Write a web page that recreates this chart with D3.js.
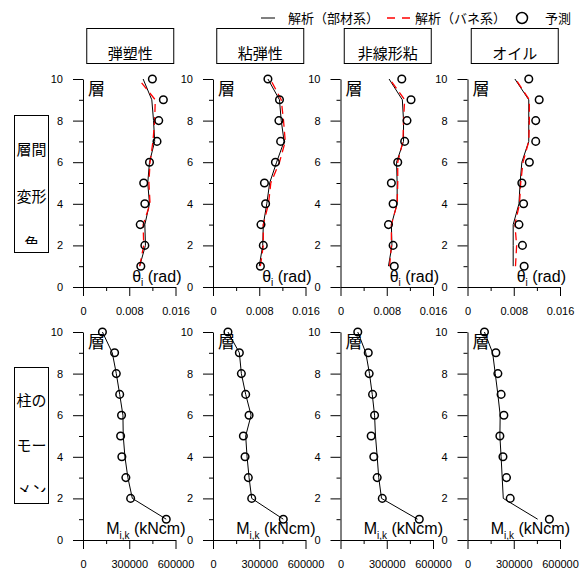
<!DOCTYPE html>
<html>
<head>
<meta charset="utf-8">
<script src="https://cdn.jsdelivr.net/npm/d3@7"></script>
<style>
  body { margin: 0; background: #fff; }
  svg { display: block; font-family: "Liberation Sans", Arial, sans-serif; }
</style>
</head>
<body>
<div id="chart"></div>
<script>
// floors 1..10
const floors = [1, 2, 3, 4, 5, 6, 7, 8, 9, 10];
const systems = ["弾塑性", "粘弾性", "非線形粘", "オイル"];
const rowLabelLines = [["層間", "変形", "角"], ["柱の", "モー", "メン", "ト"]];
const legendLabels = ["解析（部材系）", "解析（バネ系）", "予測"];

const driftTicks = [0, 0.004, 0.008, 0.012, 0.016];
const driftTickLabels = ["0", "", "0.008", "", "0.016"];
const momentTicks = [0, 150000, 300000, 450000, 600000];
const momentTickLabels = ["0", "", "300000", "", "600000"];
const floorTicks = [0, 1, 2, 3, 4, 5, 6, 7, 8, 9, 10];

// story drift angle (rad), one array per system, floor 1 -> 10
const driftPred = [
  [0.0100, 0.0107, 0.0099, 0.0107, 0.0105, 0.0115, 0.0128, 0.0131, 0.0139, 0.0120],
  [0.0082, 0.0087, 0.0083, 0.0091, 0.0089, 0.0108, 0.0117, 0.0114, 0.0115, 0.0095],
  [0.0093, 0.0091, 0.0083, 0.0091, 0.0088, 0.0099, 0.0111, 0.0115, 0.0122, 0.0106],
  [0.0098, 0.0095, 0.0089, 0.0097, 0.0094, 0.0107, 0.0118, 0.0118, 0.0124, 0.0106]
];
const driftMember = [
  [0.0098, 0.0108, 0.0107, 0.0115, 0.0112, 0.0115, 0.0124, 0.0122, 0.0119, 0.0104],
  [0.0080, 0.0086, 0.0087, 0.0093, 0.0098, 0.0110, 0.0123, 0.0118, 0.0115, 0.0095],
  [0.0083, 0.0089, 0.0088, 0.0098, 0.0098, 0.0097, 0.0109, 0.0109, 0.0107, 0.0084],
  [0.0079, 0.0079, 0.0079, 0.0089, 0.0091, 0.0094, 0.0106, 0.0106, 0.0106, 0.0082]
];
const driftSpring = [
  [0.0098, 0.0105, 0.0104, 0.0116, 0.0114, 0.0116, 0.0121, 0.0124, 0.0125, 0.0096],
  [0.0082, 0.0087, 0.0087, 0.0096, 0.0100, 0.0115, 0.0125, 0.0122, 0.0118, 0.0099],
  [0.0085, 0.0088, 0.0088, 0.0098, 0.0099, 0.0099, 0.0108, 0.0109, 0.0111, 0.0085],
  [0.0083, 0.0085, 0.0082, 0.0090, 0.0092, 0.0096, 0.0106, 0.0107, 0.0107, 0.0083]
];

// column moment (kNcm)
const momentPred = [
  [540000, 309000, 278000, 252000, 244000, 250000, 238000, 216000, 205000, 126000],
  [456000, 251000, 229000, 208000, 197000, 234000, 212000, 184000, 171000, 97000],
  [511000, 271000, 238000, 216000, 199000, 221000, 208000, 186000, 180000, 112000],
  [531000, 277000, 253000, 230000, 210000, 236000, 218000, 197000, 184000, 110000]
];
const momentMember = [
  [540000, 320000, 291000, 272000, 261000, 259000, 238000, 216000, 190000, 126000],
  [456000, 251000, 234000, 221000, 212000, 247000, 212000, 184000, 171000, 97000],
  [500000, 266000, 248000, 238000, 227000, 221000, 206000, 188000, 164000, 112000],
  [455000, 232000, 225000, 218000, 210000, 212000, 197000, 180000, 163000, 110000]
];

const config = {
  width: 582,
  height: 571,
  panelX: [83, 213, 340.5, 467.5],
  panelW: 92.5,
  rows: [
    {y0: 287, y10: 79},
    {y0: 540, y10: 332}
  ],
  jpFont: "'Noto Sans CJK JP', 'Noto Sans', sans-serif",
  red: "#ff0000"
};

const svg = d3.select("#chart")
  .append("svg")
  .attr("width", config.width)
  .attr("height", config.height)
  .attr("viewBox", [0, 0, config.width, config.height]);

const defs = svg.append("defs");

function drawAxes(g, x, y, ticks, tickLabels, x0, y0) {
  g.append("g")
    .attr("transform", `translate(${x0},0)`)
    .call(d3.axisLeft(y).tickValues(floorTicks).tickSize(10).tickSizeOuter(0).tickPadding(10)
      .tickFormat(d => d % 2 ? "" : d))
    .call(a => a.selectAll(".tick line").attr("x2", d => d % 2 ? -4 : -10))
    .call(a => a.attr("font-size", 11).attr("font-family", null));

  g.append("g")
    .attr("transform", `translate(0,${y0})`)
    .call(d3.axisBottom(x).tickValues(ticks).tickSize(9).tickSizeOuter(0).tickPadding(11)
      .tickFormat((d, i) => tickLabels[i]))
    .call(a => a.selectAll(".tick line").attr("y2", (d, i) => tickLabels[i] ? 9 : 4))
    .call(a => a.attr("font-size", 11).attr("font-family", null));
}

function drawPoints(g, x, y, values) {
  g.append("g")
    .attr("fill", "none")
    .attr("stroke", "#000")
    .attr("stroke-width", 1.5)
    .selectAll("circle")
    .data(floors)
    .join("circle")
    .attr("cx", (f, i) => x(values[i]))
    .attr("cy", f => y(f))
    .attr("r", 3.8);
}

function drawLine(g, x, y, values, color, dash) {
  const line = d3.line().x((f, i) => x(values[i])).y(f => y(f));
  g.append("path")
    .attr("d", line(floors))
    .attr("fill", "none")
    .attr("stroke", color)
    .attr("stroke-width", dash ? 1.3 : 1)
    .attr("stroke-dasharray", dash || null);
}

// panels
config.rows.forEach((row, r) => {
  systems.forEach((name, c) => {
    const x0 = config.panelX[c];
    const g = svg.append("g");
    const x = d3.scaleLinear([0, r === 0 ? 0.016 : 600000], [x0, x0 + config.panelW]);
    const y = d3.scaleLinear([0, 10], [row.y0, row.y10]);

    if (r === 0) {
      drawAxes(g, x, y, driftTicks, driftTickLabels, x0, row.y0);
      drawLine(g, x, y, driftMember[c], "#000");
      drawLine(g, x, y, driftSpring[c], config.red, "8,5");
      drawPoints(g, x, y, driftPred[c]);
    } else {
      drawAxes(g, x, y, momentTicks, momentTickLabels, x0, row.y0);
      drawLine(g, x, y, momentMember[c], "#000");
      drawPoints(g, x, y, momentPred[c]);
    }

    // 層 label
    g.append("text")
      .attr("x", x0 + 5)
      .attr("y", row.y10 + 16)
      .attr("font-family", config.jpFont)
      .attr("font-size", 17)
      .text("層");

    // value axis title
    const t = g.append("text")
      .attr("x", x0 + config.panelW + (r === 0 ? 6 : 10))
      .attr("y", row.y0 - (r === 0 ? 5 : 6))
      .attr("text-anchor", "end")
      .attr("font-size", 16);
    if (r === 0) {
      t.append("tspan").text("θ");
      t.append("tspan").attr("font-size", 10).attr("dy", 4).text("i");
      t.append("tspan").attr("dy", -4).text(" (rad)");
    } else {
      t.append("tspan").text("M");
      t.append("tspan").attr("font-size", 10).attr("dy", 5).text("i,k");
      t.append("tspan").attr("dy", -5).text(" (kNcm)");
    }
  });
});

// column header boxes
systems.forEach((name, c) => {
  const cx = config.panelX[c] + config.panelW / 2 + 1;
  svg.append("rect")
    .attr("x", cx - 43.5).attr("y", 28.5)
    .attr("width", 87).attr("height", 35)
    .attr("fill", "none").attr("stroke", "#000").attr("stroke-width", 1);
  svg.append("text")
    .attr("x", cx).attr("y", 59)
    .attr("text-anchor", "middle")
    .attr("font-family", config.jpFont)
    .attr("font-size", 15)
    .text(name);
});

// row label boxes (text clipped a little inside the box)
const rowBoxes = [
  {y: 115, h: 137, first: 155, step: 47, clip: 244},
  {y: 367, h: 136, first: 406, step: 45, clip: 492}
];
rowBoxes.forEach((b, r) => {
  defs.append("clipPath").attr("id", "rowclip" + r)
    .append("rect").attr("x", 14).attr("y", b.y).attr("width", 34).attr("height", b.clip - b.y);
  svg.append("rect")
    .attr("x", 14.5).attr("y", b.y + 0.5)
    .attr("width", 34).attr("height", b.h)
    .attr("fill", "none").attr("stroke", "#000");
  svg.append("g")
    .attr("clip-path", `url(#rowclip${r})`)
    .selectAll("text")
    .data(rowLabelLines[r])
    .join("text")
    .attr("x", 31.5)
    .attr("y", (d, i) => b.first + i * b.step)
    .attr("text-anchor", "middle")
    .attr("font-family", config.jpFont)
    .attr("font-size", 15)
    .text(d => d);
});

// legend
const lg = svg.append("g").attr("font-family", config.jpFont).attr("font-size", 13);
lg.append("line").attr("x1", 261).attr("x2", 275).attr("y1", 18).attr("y2", 18).attr("stroke", "#000");
lg.append("text").attr("x", 288).attr("y", 23).text(legendLabels[0]);
lg.append("line").attr("x1", 387).attr("x2", 410).attr("y1", 18).attr("y2", 18)
  .attr("stroke", config.red).attr("stroke-width", 1.3).attr("stroke-dasharray", "8,7");
lg.append("text").attr("x", 415).attr("y", 23).text(legendLabels[1]);
lg.append("circle").attr("cx", 522).attr("cy", 18).attr("r", 5.5)
  .attr("fill", "none").attr("stroke", "#000").attr("stroke-width", 1.5);
lg.append("text").attr("x", 545).attr("y", 23).text(legendLabels[2]);
</script>
</body>
</html>
